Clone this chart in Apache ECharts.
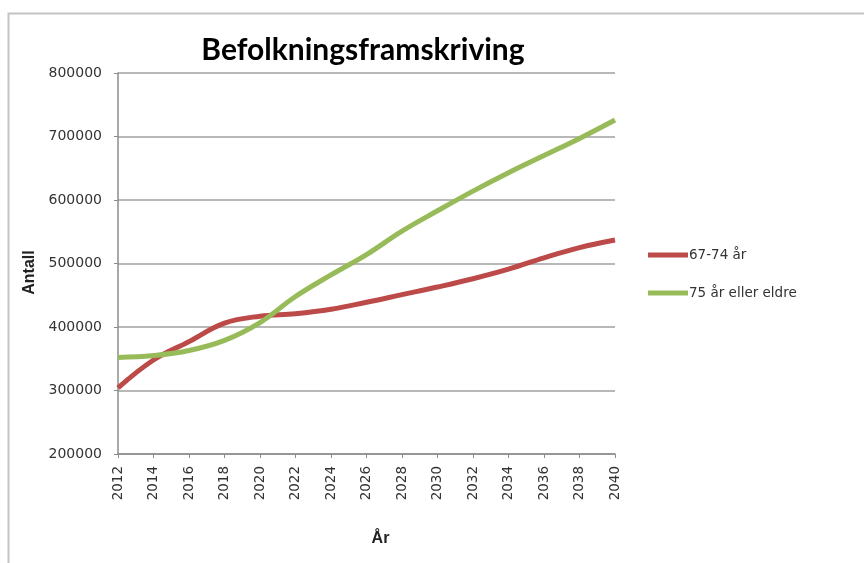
<!DOCTYPE html>
<html>
<head>
<meta charset="utf-8">
<script src="https://cdn.jsdelivr.net/npm/echarts@6/dist/echarts.min.js"></script>
<style>
  html, body { margin: 0; padding: 0; background: #fff; }
  #chart { width: 864px; height: 563px; }
</style>
</head>
<body>
<div id="chart"></div>
<script>
// Projected population by age group, every second year
const years = ['2012','2014','2016','2018','2020','2022','2024','2026','2028','2030','2032','2034','2036','2038','2040'];
const age67to74 = [304000, 348000, 377000, 406000, 417000, 421000, 428000, 439000, 451000, 463000, 476000, 491000, 509000, 525000, 537000];
const age75plus = [352000, 355000, 363000, 379000, 407000, 448000, 482000, 514000, 551000, 583000, 614000, 643000, 670000, 697000, 726000];
const seriesNames = ['67-74 år', '75 år eller eldre'];
const seriesColors = ['#bc4a48', '#98bb59'];

const chart = echarts.init(document.getElementById('chart'));
const font = '"DejaVu Sans", Verdana, sans-serif';
const boldFont = '"Liberation Sans", Arial, sans-serif';

chart.setOption({
  animation: false,
  backgroundColor: '#fff',
  title: {
    text: 'Befolkningsframskriving',
    left: 358, top: 30, textAlign: 'center',
    textStyle: { fontFamily: 'Lato, "Open Sans", sans-serif', fontWeight: 'bold', fontSize: 30, color: '#000' }
  },
  graphic: [{
    type: 'rect', left: 6, top: 11, silent: true,
    shape: { width: 900, height: 600 },
    style: { fill: 'none', stroke: '#c4c4c4', lineWidth: 2 }
  }],
  legend: {
    orient: 'vertical', left: 648, top: 248, itemGap: 24, padding: 0,
    itemWidth: 40, itemHeight: 5, icon: 'rect',
    textStyle: { fontFamily: font, fontSize: 13.5, color: '#333', padding: [0, 0, 0, -4] },
    data: seriesNames
  },
  grid: { left: 118, right: 249, top: 73, bottom: 109, containLabel: false },
  xAxis: {
    type: 'category', data: years, boundaryGap: false,
    name: 'År', nameLocation: 'middle', nameGap: 77,
    nameTextStyle: { fontFamily: boldFont, fontWeight: 'bold', fontSize: 16, color: '#222', padding: [0, 0, 0, 28] },
    axisLine: { lineStyle: { color: '#8c8c8c', width: 1.5 } },
    axisTick: { alignWithLabel: true, length: 4, lineStyle: { color: '#8c8c8c' } },
    axisLabel: { rotate: 90, fontFamily: font, fontSize: 13.5, color: '#333', margin: 12 },
    splitLine: { show: false }
  },
  yAxis: {
    type: 'value', min: 200000, max: 800000, interval: 100000,
    name: 'Antall', nameLocation: 'middle', nameGap: 78,
    nameTextStyle: { fontFamily: boldFont, fontWeight: 'bold', fontSize: 16, color: '#222', padding: [0, 18, 0, 0] },
    axisLine: { show: true, lineStyle: { color: '#8c8c8c', width: 1.5 } },
    axisTick: { show: true, inside: false, length: 4, lineStyle: { color: '#8c8c8c' } },
    axisLabel: { fontFamily: font, fontSize: 14, color: '#333', margin: 16, padding: [4, 0, 0, 0], formatter: v => String(v) },
    splitLine: { lineStyle: { color: '#b8b8b8', width: 2 } }
  },
  series: [
    {
      name: seriesNames[0], type: 'line', data: age67to74, smooth: 0.4,
      showSymbol: false, symbol: 'none',
      lineStyle: { color: seriesColors[0], width: 5 }, itemStyle: { color: seriesColors[0] }
    },
    {
      name: seriesNames[1], type: 'line', data: age75plus, smooth: 0.4,
      showSymbol: false, symbol: 'none',
      lineStyle: { color: seriesColors[1], width: 5 }, itemStyle: { color: seriesColors[1] }
    }
  ]
});
</script>
</body>
</html>
